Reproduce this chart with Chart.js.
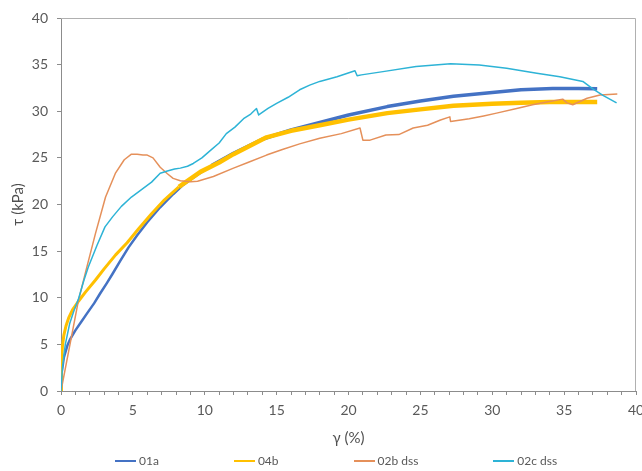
<!DOCTYPE html>
<html>
<head>
<meta charset="utf-8">
<script src="https://cdn.jsdelivr.net/npm/chart.js@4.4.1/dist/chart.umd.min.js"></script>
<style>
  html, body { margin: 0; padding: 0; background: #fff; }
  #wrap { position: relative; width: 642px; height: 471px; }
  #leyenda { position: absolute; left: 115px; top: 453px; display: flex; gap: 75px;
             font: 12px Lato, sans-serif; color: #595959; }
  .item { display: flex; align-items: center; }
  .linea { width: 21px; height: 2px; margin-right: 3px; }
</style>
</head>
<body>
<div id="wrap">
  <canvas id="graficoCorte"></canvas>
  <div id="leyenda"></div>
</div>
<script>
// === Datos: deformación angular γ (%) y tensión τ (kPa) ===
const series = ['01a', '04b', '02b dss', '02c dss'];
const colores = ['#4472c4', '#ffc000', '#e5905a', '#2db3d6'];
const ticksY = [0, 5, 10, 15, 20, 25, 30, 35, 40];

const gamma01a = [0, 0.05, 0.2, 0.45, 0.65, 1.0, 1.4, 1.8, 2.3, 2.7, 3.2, 3.6, 4.1, 4.7, 5.3, 6.0, 6.9, 7.8, 8.5, 9.5, 10.5, 12, 14, 16, 18, 20, 22.7, 25, 27.3, 30, 32, 34.2, 36, 37.3];
const tau01a   = [0, 2.0, 3.6, 4.9, 5.6, 6.5, 7.4, 8.3, 9.4, 10.4, 11.6, 12.6, 13.9, 15.4, 16.7, 18.1, 19.7, 21.1, 22.1, 23.2, 24.2, 25.5, 27.0, 28.0, 28.8, 29.6, 30.5, 31.1, 31.6, 32.0, 32.3, 32.45, 32.45, 32.4];

const gamma04b = [0, 0.03, 0.1, 0.2, 0.35, 0.55, 0.8, 1.2, 1.7, 2.4, 3.0, 3.8, 4.6, 5.4, 6.3, 7.2, 8.2, 9.7, 11, 12, 14.3, 16, 18, 20, 22.7, 25, 27.3, 30, 32, 34, 36, 37.3];
const tau04b   = [0, 3.0, 4.8, 6.0, 7.0, 7.9, 8.7, 9.6, 10.6, 11.9, 13.1, 14.6, 15.9, 17.4, 19.0, 20.5, 21.9, 23.5, 24.5, 25.4, 27.2, 27.9, 28.5, 29.1, 29.8, 30.2, 30.6, 30.8, 30.9, 31.0, 31.0, 31.0];

const gamma02b = [0, 0.4, 0.8, 1.2, 1.7, 2.4, 3.1, 3.8, 4.4, 4.9, 5.3, 5.7, 6.0, 6.4, 6.9, 7.4, 7.8, 8.3, 9.0, 9.5, 10.6, 12, 13, 14.3, 15.4, 16.6, 18, 19.5, 20.8, 21.0, 21.5, 22.6, 23.5, 24.5, 25.5, 26.4, 27.05, 27.1, 28.4, 29.4, 30.3, 31.7, 32.8, 33.8, 34.9, 35.2, 35.6, 36.6, 37.5, 38.7];
const tau02b   = [0, 3.2, 6.4, 9.6, 12.7, 16.9, 20.8, 23.4, 24.8, 25.4, 25.4, 25.3, 25.3, 25.0, 24.0, 23.3, 22.8, 22.55, 22.45, 22.5, 23.0, 23.9, 24.5, 25.3, 25.9, 26.5, 27.1, 27.6, 28.2, 26.9, 26.9, 27.45, 27.5, 28.2, 28.5, 29.06, 29.4, 28.9, 29.2, 29.5, 29.8, 30.3, 30.7, 31.0, 31.3, 30.9, 30.7, 31.4, 31.74, 31.85];

const gamma02c = [0, 0.1, 0.3, 0.6, 0.9, 1.2, 1.6, 1.9, 2.5, 3.06, 3.6, 4.2, 4.9, 5.6, 6.3, 6.9, 7.4, 7.9, 8.3, 8.8, 9.2, 9.8, 10.4, 11.0, 11.5, 12.1, 12.7, 13.2, 13.6, 13.75, 14.4, 15.0, 15.8, 16.6, 17.3, 18.0, 19.2, 20.45, 20.6, 20.9, 22.4, 24.7, 27.1, 29.1, 31.0, 33.1, 34.7, 36.3, 37.0, 37.7, 38.65];
const tau02c   = [0, 2.5, 5.0, 7.2, 8.6, 9.8, 11.9, 13.3, 15.6, 17.6, 18.7, 19.8, 20.8, 21.6, 22.4, 23.35, 23.6, 23.8, 23.9, 24.1, 24.4, 25.0, 25.8, 26.6, 27.6, 28.3, 29.2, 29.7, 30.3, 29.6, 30.3, 30.85, 31.5, 32.3, 32.8, 33.2, 33.7, 34.35, 33.8, 33.9, 34.25, 34.8, 35.1, 34.96, 34.6, 34.07, 33.7, 33.2, 32.4, 31.7, 30.9];

const gammas = [gamma01a, gamma04b, gamma02b, gamma02c];
const taus = [tau01a, tau04b, tau02b, tau02c];
// grosor al inicio, grosor después de γ = corteGrosor (las curvas con ruido se ven más anchas)
const grosorInicio = [2.5, 3, 1.5, 1.5];
const grosorFinal = [3.5, 4.5, 1.5, 1.5];
const corteGrosor = [10, 8, 0, 0];

// Marco superior y derecho del área de trazado
const marco = {
    id: 'marco',
    afterDraw(chart) {
        const { ctx, chartArea: a } = chart;
        ctx.save();
        ctx.strokeStyle = '#b0b0b0';
        ctx.lineWidth = 1;
        ctx.beginPath();
        ctx.moveTo(a.left, a.top + 0.5);
        ctx.lineTo(a.right - 0.5, a.top + 0.5);
        ctx.lineTo(a.right - 0.5, a.bottom);
        ctx.stroke();
        ctx.restore();
    }
};

const datasets = series.map((nombre, i) => ({
    label: nombre,
    data: gammas[i].map((g, j) => ({ x: g, y: taus[i][j] })),
    borderColor: colores[i],
    backgroundColor: colores[i],
    borderWidth: grosorFinal[i],
    segment: {
        borderWidth: c => (c.p0.parsed.x < corteGrosor[i] ? grosorInicio[i] : grosorFinal[i])
    },
    borderJoinStyle: 'round',
    pointRadius: 0,
    tension: 0,
    showLine: true,
    order: series.length - i
}));

const fuenteTicks = { family: 'Lato, sans-serif', size: 14 };
const fuenteTitulo = { family: 'Lato, sans-serif', size: 15 };

new Chart(document.getElementById('graficoCorte'), {
    type: 'scatter',
    data: { datasets },
    options: {
        responsive: true,
        maintainAspectRatio: false,
        animation: false,
        layout: { padding: { top: 18, right: 6, bottom: 0, left: 0 } },
        plugins: { legend: { display: false }, tooltip: { enabled: false } },
        scales: {
            x: {
                type: 'linear',
                min: 0,
                max: 40,
                ticks: {
                    stepSize: 1,
                    autoSkip: false,
                    maxRotation: 0,
                    padding: 7,
                    color: '#595959',
                    font: fuenteTicks,
                    callback: v => (v % 5 === 0 ? v : '')
                },
                grid: { drawOnChartArea: false, tickLength: 4, color: '#8c8c8c' },
                border: { color: '#8c8c8c' },
                title: { display: true, text: 'γ (%)', color: '#505050', font: fuenteTitulo, padding: { top: 0, bottom: 24 } },
                afterFit(s) { s.height = 80; s.paddingRight = 0; }
            },
            y: {
                min: 0,
                max: 40,
                afterBuildTicks(s) { s.ticks = ticksY.map(v => ({ value: v })); },
                ticks: { padding: 9, color: '#595959', font: fuenteTicks },
                grid: { drawOnChartArea: false, tickLength: 4, color: '#8c8c8c' },
                border: { color: '#8c8c8c' },
                title: { display: true, text: 'τ (kPa)', color: '#505050', font: fuenteTitulo, padding: { top: 9, bottom: 9 } },
                afterFit(s) { s.width = 61; }
            }
        }
    },
    plugins: [marco]
});

// Leyenda
const leyenda = document.getElementById('leyenda');
series.forEach((nombre, i) => {
    leyenda.innerHTML += `<div class="item"><span class="linea" style="background:${colores[i]}"></span>${nombre}</div>`;
});
</script>
</body>
</html>
